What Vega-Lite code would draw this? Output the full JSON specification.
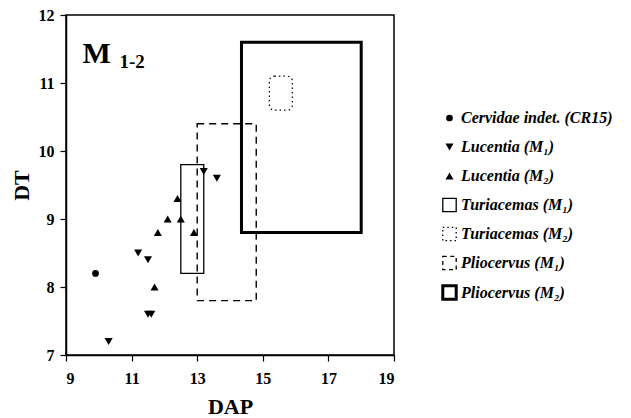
{
  "$schema": "https://vega.github.io/schema/vega-lite/v6.json",
  "width": 328,
  "height": 340,
  "autosize": {"type": "none"},
  "padding": {"left": 66, "top": 15, "right": 237, "bottom": 63},
  "background": "white",
  "config": {
    "font": "Liberation Serif",
    "view": {"stroke": "black", "strokeWidth": 1.5},
    "axis": {
      "domainColor": "black",
      "domainWidth": 1.5,
      "tickColor": "black",
      "tickWidth": 1.2,
      "grid": false,
      "labelOverlap": false,
      "labelFont": "Liberation Serif",
      "labelFontWeight": "bold",
      "labelFontSize": 16,
      "labelColor": "black",
      "titleFont": "Liberation Serif",
      "titleFontWeight": "bold",
      "titleFontSize": 22,
      "titleColor": "black"
    },
    "legend": {
      "orient": "none",
      "legendX": 375,
      "legendY": 95,
      "padding": 0,
      "gridAlign": "all",
      "rowPadding": 2,
      "labelFont": "Liberation Serif",
      "labelFontStyle": "italic",
      "labelFontWeight": "bold",
      "labelFontSize": 16,
      "labelColor": "black",
      "labelOffset": 3,
      "labelLimit": 300,
      "symbolOpacity": 1
    }
  },
  "datasets": {
    "points": [
      {"series": "Cervidae indet. (CR15)", "DAP": 9.9, "DT": 8.2},
      {"series": "Lucentia (M₁)", "DAP": 10.3, "DT": 7.2},
      {"series": "Lucentia (M₁)", "DAP": 11.2, "DT": 8.5},
      {"series": "Lucentia (M₁)", "DAP": 11.5, "DT": 8.4},
      {"series": "Lucentia (M₁)", "DAP": 11.5, "DT": 7.6},
      {"series": "Lucentia (M₁)", "DAP": 11.6, "DT": 7.6},
      {"series": "Lucentia (M₁)", "DAP": 13.2, "DT": 9.7},
      {"series": "Lucentia (M₁)", "DAP": 13.6, "DT": 9.6},
      {"series": "Lucentia (M₂)", "DAP": 11.7, "DT": 8.0},
      {"series": "Lucentia (M₂)", "DAP": 11.8, "DT": 8.8},
      {"series": "Lucentia (M₂)", "DAP": 12.1, "DT": 9.0},
      {"series": "Lucentia (M₂)", "DAP": 12.4, "DT": 9.3},
      {"series": "Lucentia (M₂)", "DAP": 12.5, "DT": 9.0},
      {"series": "Lucentia (M₂)", "DAP": 12.9, "DT": 8.8}
    ],
    "boxes": [
      {"series": "Turiacemas (M₁)", "x1": 12.5, "x2": 13.2, "y1": 8.2, "y2": 9.8},
      {"series": "Turiacemas (M₂)", "x1": 15.2, "x2": 15.9, "y1": 10.6, "y2": 11.1},
      {"series": "Pliocervus (M₁)", "x1": 13.0, "x2": 14.8, "y1": 7.8, "y2": 10.4},
      {"series": "Pliocervus (M₂)", "x1": 14.35, "x2": 18.0, "y1": 8.8, "y2": 11.6}
    ],
    "labels": [
      {"text": "M", "x": 9.5, "y": 11.29, "kind": "big"},
      {"text": "1-2", "x": 10.63, "y": 11.22, "kind": "small"}
    ]
  },
  "layer": [
    {
      "data": {"name": "boxes"},
      "transform": [{"filter": "datum.series === 'Turiacemas (M₁)'"}],
      "mark": {"type": "rect", "fill": null, "fillOpacity": 0, "stroke": "black", "strokeWidth": 1.3},
      "encoding": {
        "x": {"field": "x1", "type": "quantitative", "scale": {"domain": [9, 19], "nice": false, "zero": false},
          "axis": {
            "title": "DAP",
            "values": [9, 10, 11, 12, 13, 14, 15, 16, 17, 18, 19],
            "format": "d",
            "labelOverlap": false,
            "tickSize": 6,
            "labelPadding": 9,
            "titleY": 58,
            "titleBaseline": "alphabetic"
          }},
        "x2": {"field": "x2"},
        "y": {"field": "y1", "type": "quantitative", "scale": {"domain": [7, 12], "nice": false, "zero": false},
          "axis": {
            "title": "DT",
            "values": [7, 7.5, 8, 8.5, 9, 9.5, 10, 10.5, 11, 11.5, 12],
            "labelExpr": "datum.value % 1 === 0 ? format(datum.value, 'd') : ''",
            "labelOverlap": false,
            "tickSize": {"condition": {"test": "datum.value % 1 === 0", "value": 6}, "value": 3},
            "labelPadding": 6,
            "titleX": -45,
            "titleY": 170,
            "titleAngle": -90,
            "titleAlign": "center",
            "titleBaseline": "middle"
          }},
        "y2": {"field": "y2"}
      }
    },
    {
      "data": {"name": "boxes"},
      "transform": [{"filter": "datum.series === 'Pliocervus (M₁)'"}],
      "mark": {"type": "rect", "fill": null, "fillOpacity": 0, "stroke": "black", "strokeWidth": 1.4, "strokeDash": [7, 5]},
      "encoding": {
        "x": {"field": "x1", "type": "quantitative"},
        "x2": {"field": "x2"},
        "y": {"field": "y1", "type": "quantitative"},
        "y2": {"field": "y2"}
      }
    },
    {
      "data": {"name": "boxes"},
      "transform": [{"filter": "datum.series === 'Pliocervus (M₂)'"}],
      "mark": {"type": "rect", "fill": null, "fillOpacity": 0, "stroke": "black", "strokeWidth": 3},
      "encoding": {
        "x": {"field": "x1", "type": "quantitative"},
        "x2": {"field": "x2"},
        "y": {"field": "y1", "type": "quantitative"},
        "y2": {"field": "y2"}
      }
    },
    {
      "data": {"name": "boxes"},
      "transform": [{"filter": "datum.series === 'Turiacemas (M₂)'"}],
      "mark": {"type": "rect", "fill": null, "fillOpacity": 0, "stroke": "black", "strokeDash": [1.5, 3], "strokeWidth": 1.2, "cornerRadius": 5},
      "encoding": {
        "x": {"field": "x1", "type": "quantitative"},
        "x2": {"field": "x2"},
        "y": {"field": "y1", "type": "quantitative"},
        "y2": {"field": "y2"}
      }
    },
    {
      "data": {"name": "points"},
      "mark": {"type": "point", "filled": true, "stroke": "black", "opacity": 1},
      "encoding": {
        "x": {"field": "DAP", "type": "quantitative"},
        "y": {"field": "DT", "type": "quantitative"},
        "shape": {
          "field": "series", "type": "nominal", "title": null,
          "scale": {
            "domain": ["Cervidae indet. (CR15)", "Lucentia (M₁)", "Lucentia (M₂)", "Turiacemas (M₁)", "Turiacemas (M₂)", "Pliocervus (M₁)", "Pliocervus (M₂)"],
            "range": ["circle", "triangle-down", "triangle-up", "square", "square", "square", "square"]
          }
        },
        "fill": {
          "field": "series", "type": "nominal", "title": null,
          "scale": {
            "domain": ["Cervidae indet. (CR15)", "Lucentia (M₁)", "Lucentia (M₂)", "Turiacemas (M₁)", "Turiacemas (M₂)", "Pliocervus (M₁)", "Pliocervus (M₂)"],
            "range": ["black", "black", "black", "transparent", "transparent", "transparent", "transparent"]
          }
        },
        "strokeDash": {
          "field": "series", "type": "nominal", "title": null,
          "scale": {
            "domain": ["Cervidae indet. (CR15)", "Lucentia (M₁)", "Lucentia (M₂)", "Turiacemas (M₁)", "Turiacemas (M₂)", "Pliocervus (M₁)", "Pliocervus (M₂)"],
            "range": [[1, 0], [1, 0], [1, 0], [1, 0], [1.5, 3], [4, 3.5], [1, 0]]
          }
        },
        "strokeWidth": {
          "field": "series", "type": "nominal", "title": null,
          "scale": {
            "type": "ordinal",
            "domain": ["Cervidae indet. (CR15)", "Lucentia (M₁)", "Lucentia (M₂)", "Turiacemas (M₁)", "Turiacemas (M₂)", "Pliocervus (M₁)", "Pliocervus (M₂)"],
            "range": [0, 0, 0, 1.3, 1.3, 1.3, 3]
          }
        },
        "size": {
          "field": "series", "type": "nominal", "title": null,
          "scale": {
            "type": "ordinal",
            "domain": ["Cervidae indet. (CR15)", "Lucentia (M₁)", "Lucentia (M₂)", "Turiacemas (M₁)", "Turiacemas (M₂)", "Pliocervus (M₁)", "Pliocervus (M₂)"],
            "range": [45, 65, 65, 180, 180, 180, 180]
          }
        }
      }
    },
    {
      "data": {"name": "labels"},
      "transform": [{"filter": "datum.kind === 'big'"}],
      "mark": {"type": "text", "font": "Liberation Serif", "fontWeight": "bold", "fontSize": 30, "align": "left", "baseline": "alphabetic", "color": "black"},
      "encoding": {
        "x": {"field": "x", "type": "quantitative"},
        "y": {"field": "y", "type": "quantitative"},
        "text": {"field": "text"}
      }
    },
    {
      "data": {"name": "labels"},
      "transform": [{"filter": "datum.kind === 'small'"}],
      "mark": {"type": "text", "font": "Liberation Serif", "fontWeight": "bold", "fontSize": 19, "align": "left", "baseline": "alphabetic", "color": "black"},
      "encoding": {
        "x": {"field": "x", "type": "quantitative"},
        "y": {"field": "y", "type": "quantitative"},
        "text": {"field": "text"}
      }
    }
  ]
}
